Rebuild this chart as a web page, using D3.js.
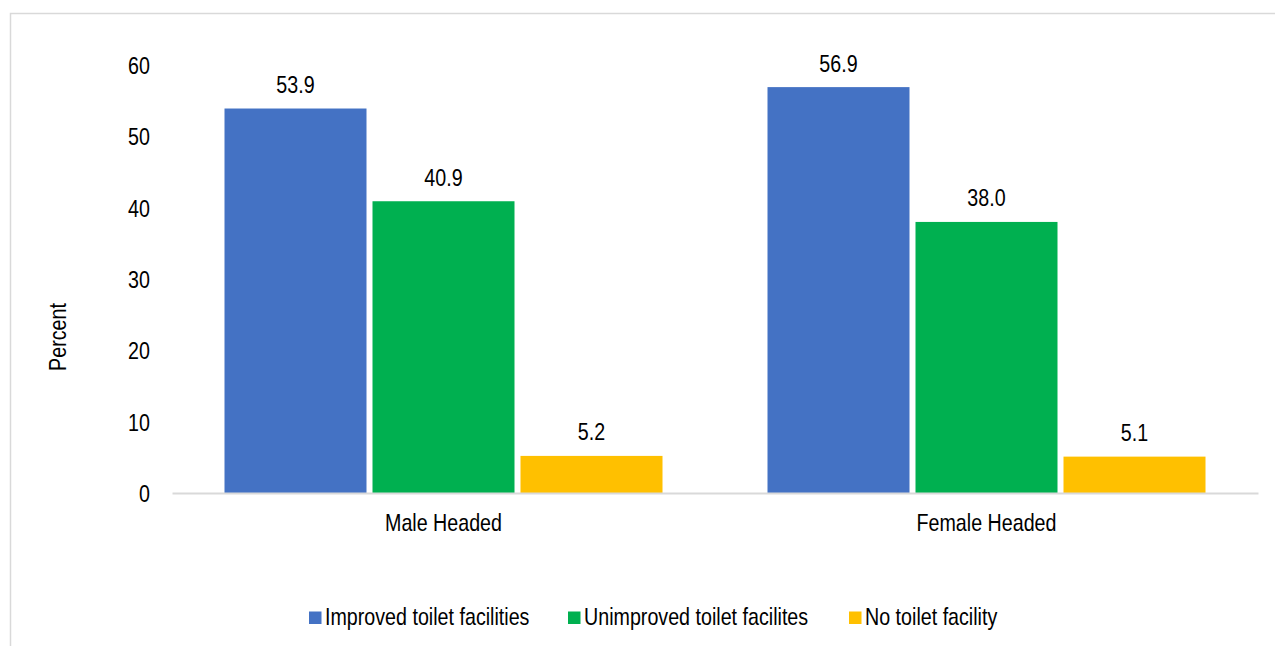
<!DOCTYPE html>
<html><head><meta charset="utf-8">
<script src="https://cdn.jsdelivr.net/npm/d3@7"></script>
<style>body{margin:0;background:#fff}svg{display:block}text{font-family:"Liberation Sans",Arial,sans-serif;fill:#000}</style>
</head><body>
<svg id="c" width="1275" height="646"></svg>
<script>
const categories = ["Male Headed", "Female Headed"];
const seriesNames = ["Improved toilet facilities", "Unimproved toilet facilites", "No toilet facility"];
const improved = [53.9, 56.9];
const unimproved = [40.9, 38.0];
const noFacility = [5.2, 5.1];
const yTicks = [0, 10, 20, 30, 40, 50, 60];
const colors = ["#4472C4", "#00B050", "#FFC000"];
const series = [improved, unimproved, noFacility];
const SX = 0.82, FS = 24;

const svg = d3.select("#c");
svg.append("rect").attr("x",10.5).attr("y",13.5).attr("width",1300).attr("height",700)
  .attr("fill","none").attr("stroke","#d9d9d9").attr("stroke-width",1.5);

function label(x, yy, txt, anchor, rot){
  const g = svg.append("g").attr("transform",`translate(${x},${yy})` + (rot?` rotate(${rot})`:""));
  return g.append("text").attr("transform",`scale(${SX},1)`).attr("text-anchor",anchor||"start")
    .attr("dy","0.35em").attr("font-size",FS).text(txt);
}

const x0 = d3.scaleBand().domain(categories).range([172,1258]);
const x1 = d3.scaleBand().domain(d3.range(3)).range([0,438]).paddingInner(6/148);
const y = d3.scaleLinear().domain([0,60]).range([493,65]);

// y tick labels
const ya = svg.append("g").attr("transform","translate(150,0)")
  .call(d3.axisLeft(y).tickValues(yTicks).tickSize(0).tickPadding(0).tickFormat(d3.format("d")));
ya.select(".domain").remove();
ya.selectAll("text").attr("font-size",FS).attr("font-family",null).attr("dy","0.35em")
  .attr("transform",`scale(${SX},1)`);

// bars
categories.forEach((c,ci)=>{
  const gx = x0(c) + (x0.bandwidth()-438)/2;
  series.forEach((s,si)=>{
    svg.append("rect").attr("x",gx+x1(si)).attr("y",y(s[ci])).attr("width",x1.bandwidth())
      .attr("height",y(0)-y(s[ci])).attr("fill",colors[si]);
    label(gx+x1(si)+x1.bandwidth()/2, y(s[ci])-24, s[ci].toFixed(1), "middle");
  });
});

// x axis
const xa = svg.append("g").attr("transform","translate(0,493)")
  .call(d3.axisBottom(x0).tickSize(0).tickPadding(0));
xa.select(".domain").attr("stroke","#d9d9d9").attr("stroke-width",2);
xa.selectAll("text").attr("font-size",FS).attr("font-family",null).attr("dy",null).attr("y",38)
  .attr("transform",`scale(${SX},1)`);

// y title
label(58, 337, "Percent", "middle", -90);

// legend
const legX = [309, 568, 849];
seriesNames.forEach((n,i)=>{
  svg.append("rect").attr("x",legX[i]).attr("y",611.5).attr("width",12.5).attr("height",12.5).attr("fill",colors[i]);
  label(legX[i]+16, 617, n, "start");
});
</script>
</body></html>
